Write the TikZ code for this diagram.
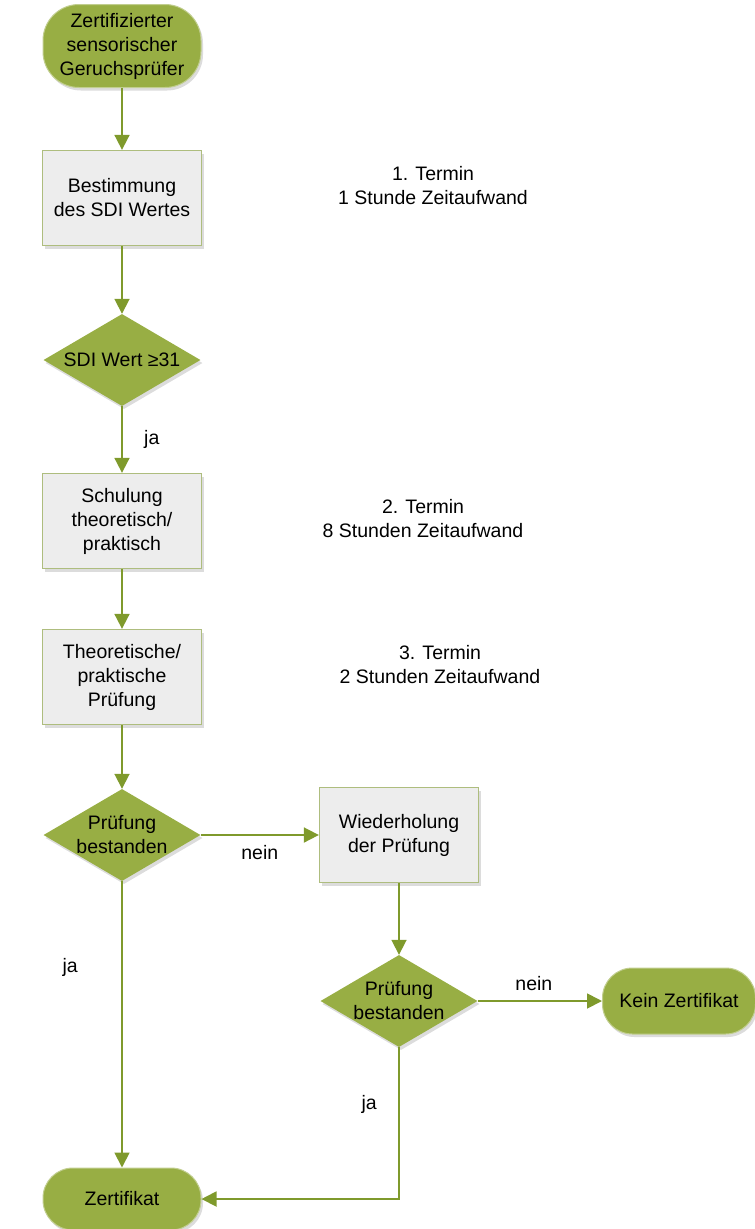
\documentclass[tikz,border=0pt]{standalone}
\usepackage{fontspec}
\setmainfont{Liberation Sans}
\usepackage{tikz}
\usetikzlibrary{arrows.meta, positioning, shapes.geometric, shadows}

\definecolor{gruen}{HTML}{98AE44}
\definecolor{pfeil}{HTML}{7F9A2C}
\definecolor{grau}{HTML}{EDEDED}
\definecolor{rand}{HTML}{AEBD7E}

\begin{document}
\begin{tikzpicture} [
    x=1pt, y=-1pt,
    font=\fontsize{19.5}{24}\selectfont,
    schatten/.style = {drop shadow={shadow xshift=2pt, shadow yshift=-3pt, opacity=.3, fill=black!45}},
    term/.style = {rectangle, rounded corners=30pt, fill=gruen, draw=gruen!60!white, line width=1pt, schatten, align=center, minimum width=158pt, inner sep=2pt},
    box/.style = {rectangle, fill=grau, draw=rand, line width=1.3pt, schatten, align=center, minimum width=159pt, minimum height=95pt},
    entscheid/.style = {diamond, aspect=1.7, fill=gruen, schatten, align=center, minimum width=157pt, minimum height=92pt, inner sep=-12pt},
    arrow/.style = {draw=pfeil, line width=1.8pt, -{Triangle[length=15pt, width=15pt]}},
    info/.style = {align=center}
    ]
    \useasboundingbox (0,0) rectangle (755,1229);

    \node[term, minimum height=83pt, rounded corners=36pt](start) at (122,46) {Zertifizierter\\sensorischer\\Geruchspr\"ufer};
    \node[box](sdi) at (122,198) {Bestimmung\\des SDI Wertes};
    \node[entscheid](wert) at (122,360) {SDI Wert ≥31};
    \node[box](schulung) at (122,521) {Schulung\\theoretisch/\\praktisch};
    \node[box](pruefung) at (122,677) {Theoretische/\\praktische\\Pr\"ufung};
    \node[entscheid](bestanden) at (122,835) {Pr\"ufung\\bestanden};
    \node[box](wdh) at (399,835) {Wiederholung\\der Pr\"ufung};
    \node[entscheid](bestanden2) at (399,1001) {Pr\"ufung\\bestanden};
    \node[term, minimum height=66pt, minimum width=153pt](kein) at (679,1001) {Kein Zertifikat};
    \node[term, minimum height=62pt](zert) at (122,1199) {Zertifikat};

    \node[info](termin1) at (433,186) {1. Termin\\1 Stunde Zeitaufwand};
    \node[info](termin2) at (423,519) {2. Termin\\8 Stunden Zeitaufwand};
    \node[info](termin3) at (440,665) {3. Termin\\2 Stunden Zeitaufwand};

    \draw[arrow] (start) -- (sdi);
    \draw[arrow] (sdi) -- (wert);
    \draw[arrow] (wert) -- node[right=18pt] {ja} (schulung);
    \draw[arrow] (schulung) -- (pruefung);
    \draw[arrow] (pruefung) -- (bestanden);
    \draw[arrow] (bestanden) -- node[below=6pt] {nein} (wdh);
    \draw[arrow] (wdh) -- (bestanden2);
    \draw[arrow] (bestanden2) -- node[above=6pt, xshift=-6pt] {nein} (kein);
    \draw[arrow] (bestanden) -- node[pos=.3, left=40pt] {ja} (zert);
    \draw[arrow] (bestanden2) |- node[pos=.19, left=18pt] {ja} (zert);

\end{tikzpicture}
\end{document}
